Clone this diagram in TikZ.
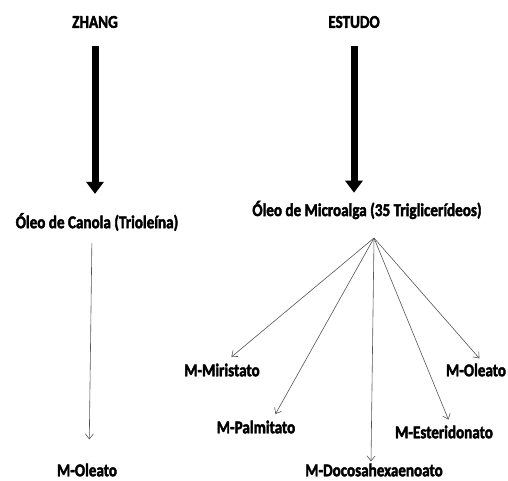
\documentclass[tikz,border=0pt]{standalone}
\usepackage{fontspec}
\setmainfont{Carlito}[BoldFeatures={FakeBold=2.5}]
\usepackage{graphicx}
\usepackage{tikz}
\usetikzlibrary{arrows.meta}
\definecolor{thingray}{RGB}{85,85,85}
\newcommand{\narrow}[1]{\scalebox{0.84}[1]{#1}}
\tikzstyle{label} = [font=\bfseries\fontsize{18}{20}\selectfont, inner sep=2pt]
\tikzstyle{bigarrow} = [line width=7pt, -{Triangle[width=17pt,length=12pt]}]
\tikzstyle{thinarrow} = [draw=thingray, line width=0.6pt, -{Straight Barb[length=5pt,width=8pt]}]

\begin{document}
\begin{tikzpicture}[x=1pt,y=-1pt]
    \useasboundingbox (0,0) rectangle (508,481);

    % top labels
    \node[label] (zhang) at (95,22) {\narrow{ZHANG}};
    \node[label] (estudo) at (354,22) {\narrow{ESTUDO}};

    % oils
    \node[label] (canola) at (97,222) {\narrow{Óleo de Canola (Trioleína)}};
    \node[label] (microalga) at (367,210) {\narrow{Óleo de Microalga (35 Triglicerídeos)}};
    \coordinate (fan) at (374,238);

    % products
    \node[label] (oleatoA) at (87,470) {\narrow{M-Oleato}};
    \node[label] (miristato) at (222,370) {\narrow{M-Miristato}};
    \node[label] (palmitato) at (256,427) {\narrow{M-Palmitato}};
    \node[label] (docosa) at (374,470) {\narrow{M-Docosahexaenoato}};
    \node[label] (esteridonato) at (444,432) {\narrow{M-Esteridonato}};
    \node[label] (oleatoB) at (476,370) {\narrow{M-Oleato}};

    % arrows
    \draw[bigarrow, shorten <=16pt, shorten >=17pt] (zhang) -- (zhang |- canola.north);
    \draw[bigarrow, shorten <=16pt, shorten >=6pt] (estudo) -- (estudo |- microalga.north);
    \draw[thinarrow, shorten <=10pt, shorten >=22pt] ([xshift=-5pt]canola.south) -- ([xshift=2pt]oleatoA.north);
    \draw[thinarrow, shorten >=7pt] (fan) -- ([xshift=4pt]miristato.north);
    \draw[thinarrow, shorten >=5pt] (fan) -- ([xshift=17pt]palmitato.north);
    \draw[thinarrow, shorten >=0pt] (fan) -- ([xshift=-3pt]docosa.north);
    \draw[thinarrow, shorten >=4pt] (fan) -- ([xshift=6pt]esteridonato.north);
    \draw[thinarrow, shorten >=4pt] (fan) -- ([xshift=6pt]oleatoB.north);
\end{tikzpicture}
\end{document}
